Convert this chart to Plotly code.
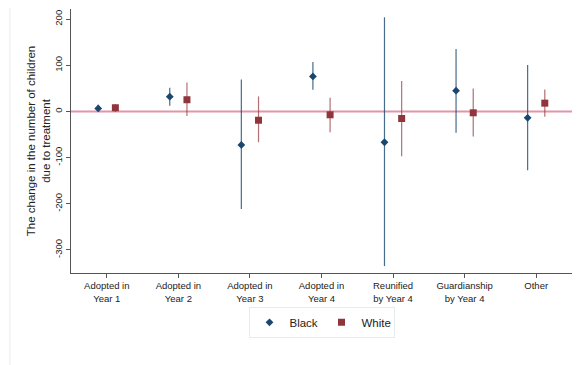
import plotly.graph_objects as go

categories = ["Adopted in<br>Year 1", "Adopted in<br>Year 2", "Adopted in<br>Year 3",
              "Adopted in<br>Year 4", "Reunified<br>by Year 4", "Guardianship<br>by Year 4", "Other"]

black_est = [6.5, 32, -72.5, 76, -66.7, 45, -13.8]
black_hi = [14.5, 51.5, 69, 107, 204, 135.5, 100.7]
black_lo = [0.6, 12.4, -211.5, 47, -335, -46, -127.6]

white_est = [8, 25.4, -19, -7.2, -15.2, -2.9, 18]
white_hi = [16, 63, 32.6, 29.7, 66, 50, 47.8]
white_lo = [-1, -10, -66.7, -45, -97, -54, -11.6]

y_ticks = [-300, -200, -100, 0, 100, 200]

pos = list(range(1, len(categories) + 1))
off = 0.12

navy = "#1a476f"
maroon = "#90353b"

fig = go.Figure()
fig.add_hline(y=0, line=dict(color="rgba(222,130,150,0.85)", width=2), layer="below")

fig.add_trace(go.Scatter(
    x=[p - off for p in pos], y=black_est, mode="markers", name="Black",
    marker=dict(symbol="diamond", size=6, color=navy),
    error_y=dict(type="data", symmetric=False,
                 array=[h - e for h, e in zip(black_hi, black_est)],
                 arrayminus=[e - l for e, l in zip(black_est, black_lo)],
                 color="rgba(26,71,111,0.8)", thickness=1.2, width=0),
))
fig.add_trace(go.Scatter(
    x=[p + off for p in pos], y=white_est, mode="markers", name="White",
    marker=dict(symbol="square", size=7, color=maroon),
    error_y=dict(type="data", symmetric=False,
                 array=[h - e for h, e in zip(white_hi, white_est)],
                 arrayminus=[e - l for e, l in zip(white_est, white_lo)],
                 color="rgba(144,53,59,0.7)", thickness=1.2, width=0),
))

fig.add_shape(type="line", xref="paper", yref="paper", x0=-0.122, x1=-0.122, y0=-0.35, y1=1.04,
              line=dict(color="#ececec", width=1))

fig.update_layout(
    width=573, height=357,
    margin=dict(l=63, r=9, t=1, b=92),
    paper_bgcolor="white", plot_bgcolor="white",
    font=dict(family="Liberation Sans, Arial, sans-serif", color="#222"),
    showlegend=True,
    legend=dict(orientation="h", x=0.5, xanchor="center", y=-0.128, yanchor="top",
                bordercolor="#e4ecef", borderwidth=1, font=dict(size=11.5),
                itemwidth=30, entrywidth=27, entrywidthmode="pixels", tracegroupgap=0),
    xaxis=dict(range=[0.5, 7.5], tickvals=pos, ticktext=categories, tickangle=0,
               showgrid=False, zeroline=False, showline=True, linecolor="#555", linewidth=1,
               ticks="outside", ticklen=4, tickcolor="#555", tickfont=dict(size=9.5)),
    yaxis=dict(range=[-350, 222], tickvals=y_ticks, ticktext=[str(v) for v in y_ticks],
               tickangle=-90, showgrid=False, zeroline=False, showline=True,
               linecolor="#555", linewidth=1, ticks="outside", ticklen=4, tickcolor="#555",
               tickfont=dict(size=9.5),
               title=dict(text="The change in the number of children<br>due to treatment",
                          font=dict(size=11.5), standoff=0)),
)

fig.write_html("out.html")
